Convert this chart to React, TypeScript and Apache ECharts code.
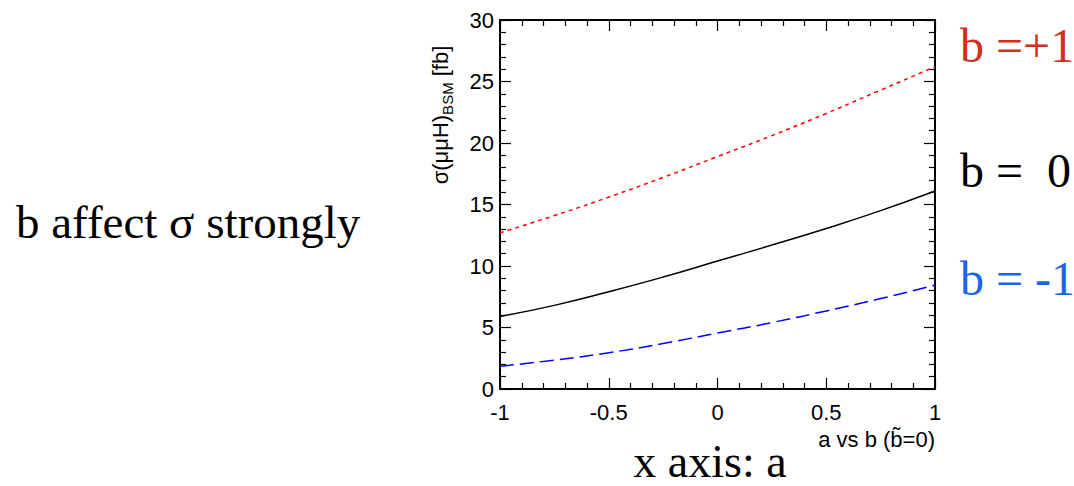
import React, { useEffect, useRef } from "react";
import * as echarts from "echarts";

const aValues = [-1, -0.75, -0.5, -0.25, 0, 0.25, 0.5, 0.75, 1];
const bPlus1 = [12.7, 14.1, 15.6, 17.2, 18.9, 20.6, 22.4, 24.3, 26.2];
const bZero = [5.9, 6.8, 7.9, 9.1, 10.4, 11.7, 13.05, 14.5, 16.1];
const bMinus1 = [1.85, 2.35, 2.95, 3.7, 4.55, 5.4, 6.35, 7.35, 8.45];

const pairs = (ys: number[]) => aValues.map((a, i) => [a, ys[i]]);

export default function App() {
  const ref = useRef<HTMLDivElement>(null);
  useEffect(() => {
    if (!ref.current) return;
    const chart = echarts.init(ref.current, undefined, { renderer: "svg" });
    const sans = "Liberation Sans";
    const serif = "Liberation Serif";
    const axisCommon = {
      axisLine: { show: true, onZero: false, lineStyle: { color: "#000", width: 2 } },
      axisTick: { show: true, inside: true, length: 11, lineStyle: { color: "#000", width: 1.2 } },
      minorTick: { show: true, splitNumber: 5, length: 6, lineStyle: { color: "#000", width: 1.2 } },
      splitLine: { show: false },
    };
    chart.setOption({
      animation: false,
      backgroundColor: "#fff",
      grid: { left: 500, right: 139, top: 20, bottom: 97 },
      xAxis: [
        {
          type: "value", min: -1, max: 1, interval: 0.5, position: "bottom",
          ...axisCommon,
          axisLabel: { color: "#000", fontFamily: sans, fontSize: 22, lineHeight: 22, margin: 12 },
        },
        {
          type: "value", min: -1, max: 1, interval: 0.5, position: "top",
          ...axisCommon,
          axisLabel: { show: false },
        },
      ],
      yAxis: [
        {
          type: "value", min: 0, max: 30, interval: 5, position: "left",
          ...axisCommon,
          axisLabel: { color: "#000", fontFamily: sans, fontSize: 22, lineHeight: 22, margin: 6 },
        },
        {
          type: "value", min: 0, max: 30, interval: 5, position: "right",
          ...axisCommon,
          axisLabel: { show: false },
        },
      ],
      series: [
        {
          name: "b=+1", type: "line", data: pairs(bPlus1), smooth: true, symbol: "none",
          lineStyle: { color: "#ff0000", width: 1.5, type: [4, 4] },
        },
        {
          name: "b=0", type: "line", data: pairs(bZero), smooth: true, symbol: "none",
          lineStyle: { color: "#000000", width: 1.5 },
        },
        {
          name: "b=-1", type: "line", data: pairs(bMinus1), smooth: true, symbol: "none",
          lineStyle: { color: "#0000ff", width: 1.5, type: [14, 6] },
        },
      ],
      graphic: [
        {
          type: "text", x: 440, y: 115, rotation: Math.PI / 2,
          style: {
            text: "σ(μμH){sub|BSM} [fb]",
            fontFamily: sans, fontSize: 22, fill: "#000",
            align: "center", verticalAlign: "middle",
            rich: { sub: { fontSize: 15, fontFamily: sans, verticalAlign: "bottom", padding: [14, 0, 0, 0] } },
          },
        },
        {
          type: "text", x: 935, y: 439,
          style: {
            text: "a vs b (b\u0303=0)", fontFamily: sans, fontSize: 22, fill: "#000",
            align: "right", verticalAlign: "middle",
          },
        },
        {
          type: "text", x: 16, y: 222,
          style: { text: "b affect σ strongly", fontFamily: serif, fontSize: 47, fill: "#000", align: "left", verticalAlign: "middle" },
        },
        {
          type: "text", x: 710, y: 461,
          style: { text: "x axis: a", fontFamily: serif, fontSize: 46, fill: "#000", align: "center", verticalAlign: "middle" },
        },
        {
          type: "text", x: 960, y: 45,
          style: { text: "b =+1", fontFamily: serif, fontSize: 48, fill: "#d0301c", align: "left", verticalAlign: "middle" },
        },
        {
          type: "text", x: 960, y: 170,
          style: { text: "b =  0", fontFamily: serif, fontSize: 48, fill: "#000", align: "left", verticalAlign: "middle" },
        },
        {
          type: "text", x: 960, y: 278,
          style: { text: "b = -1", fontFamily: serif, fontSize: 48, fill: "#1a66e6", align: "left", verticalAlign: "middle" },
        },
      ],
    });
    return () => chart.dispose();
  }, []);
  return (
    <div
      ref={ref}
      style={{ position: "fixed", left: 0, top: 0, width: 1074, height: 486, background: "#fff" }}
    />
  );
}
